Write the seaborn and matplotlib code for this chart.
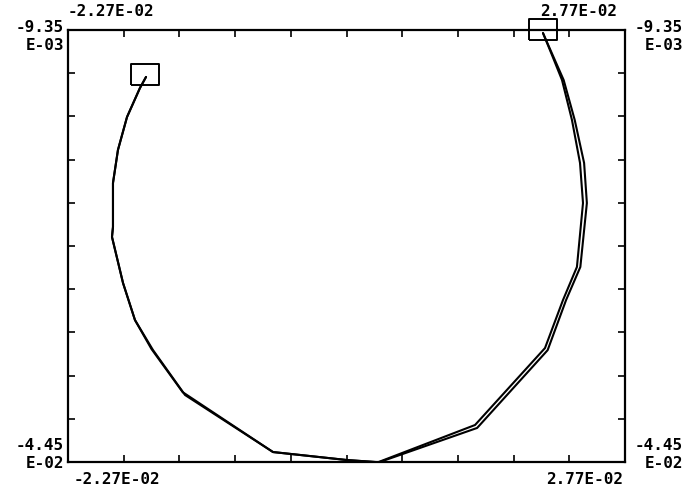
import numpy as np
import pandas as pd
import matplotlib
matplotlib.use("Agg")
import matplotlib.pyplot as plt
import seaborn as sns

# axis range (corner labels)
x_min, x_max = -2.27e-02, 2.77e-02
y_top, y_bottom = -9.35e-03, -4.45e-02

# two traces, start (upper left) -> end (upper right)
trace_a_x = [-0.01564, -0.01619, -0.01736, -0.01818, -0.01863, -0.01863, -0.01872,
             -0.01772, -0.01664, -0.01501, -0.01211, -0.00415, 0.00254, 0.00535,
             0.01413, 0.02046, 0.02209, 0.02335, 0.02390, 0.02363, 0.02290,
             0.02200, 0.02109, 0.02028]
trace_a_y = [-0.01317, -0.01407, -0.01643, -0.01911, -0.02180, -0.02538, -0.02619,
             -0.02994, -0.03295, -0.03539, -0.03905, -0.04369, -0.04434, -0.04452,
             -0.04149, -0.03523, -0.03132, -0.02863, -0.02343, -0.02017, -0.01667,
             -0.01342, -0.01138, -0.00960]
trace_b_x = [-0.01564, -0.01619, -0.01736, -0.01818, -0.01863, -0.01863, -0.01872,
             -0.01772, -0.01664, -0.01515, -0.01232, -0.00415, 0.00254, 0.00545,
             0.01432, 0.02070, 0.02237, 0.02366, 0.02425, 0.02400, 0.02315,
             0.02215, 0.02115, 0.02028]
trace_b_y = [-0.01317, -0.01407, -0.01643, -0.01911, -0.02180, -0.02538, -0.02619,
             -0.02994, -0.03295, -0.03530, -0.03882, -0.04369, -0.04434, -0.04452,
             -0.04173, -0.03540, -0.03132, -0.02863, -0.02343, -0.02017, -0.01667,
             -0.01342, -0.01138, -0.00960]

df = pd.concat([
    pd.DataFrame({'x': trace_a_x, 'y': trace_a_y, 'trace': 'a'}),
    pd.DataFrame({'x': trace_b_x, 'y': trace_b_y, 'trace': 'b'}),
], ignore_index=True)

sns.set_style("white")
W, H = 687, 490
fig = plt.figure(figsize=(W / 100, H / 100), dpi=100)
ax = fig.add_axes([68 / W, (H - 462) / H, 557 / W, 432 / H])

sns.lineplot(data=df, x='x', y='y', units='trace', estimator=None, sort=False,
             color='black', linewidth=1.5, ax=ax)

# hollow boxes at both ends of the path
box = [(-1, -0.78), (1, -0.78), (1, 0.78), (-1, 0.78), (-1, -0.78)]
ends_x = [trace_a_x[0] - 0.0001, trace_a_x[-1]]
ends_y = [trace_a_y[0] + 0.0002, trace_a_y[-1] + 0.0003]
ax.scatter(ends_x, ends_y, marker=box, s=400, facecolors='none',
           edgecolors='black', linewidths=1.4, clip_on=False, zorder=5)

ax.set_xlim(x_min, x_max)
ax.set_ylim(y_bottom, y_top)
ax.set_xticks(np.linspace(x_min, x_max, 11))
ax.set_yticks(np.linspace(y_bottom, y_top, 11))
ax.tick_params(direction='in', length=5, width=1.2, color='black',
               top=True, right=True, bottom=True, left=True,
               labelbottom=False, labelleft=False)
ax.set_xlabel('')
ax.set_ylabel('')
for s in ax.spines.values():
    s.set_color('black')
    s.set_linewidth(1.6)

font = dict(family='DejaVu Sans Mono', weight='bold', size=11.5, color='black')

def label(px, py, txt, ha):
    fig.text(px / W, 1 - py / H, txt, ha=ha, va='center', **font)

label(111, 12, '-2.27E-02', 'center')
label(579, 12, '2.77E-02', 'center')
label(64, 28, '-9.35', 'right')
label(64, 45, 'E-03', 'right')
label(683, 28, '-9.35', 'right')
label(683, 45, 'E-03', 'right')
label(64, 445, '-4.45', 'right')
label(64, 463, 'E-02', 'right')
label(683, 445, '-4.45', 'right')
label(683, 463, 'E-02', 'right')
label(117, 479, '-2.27E-02', 'center')
label(585, 479, '2.77E-02', 'center')

fig.savefig('out.png', dpi=100, facecolor='white')
